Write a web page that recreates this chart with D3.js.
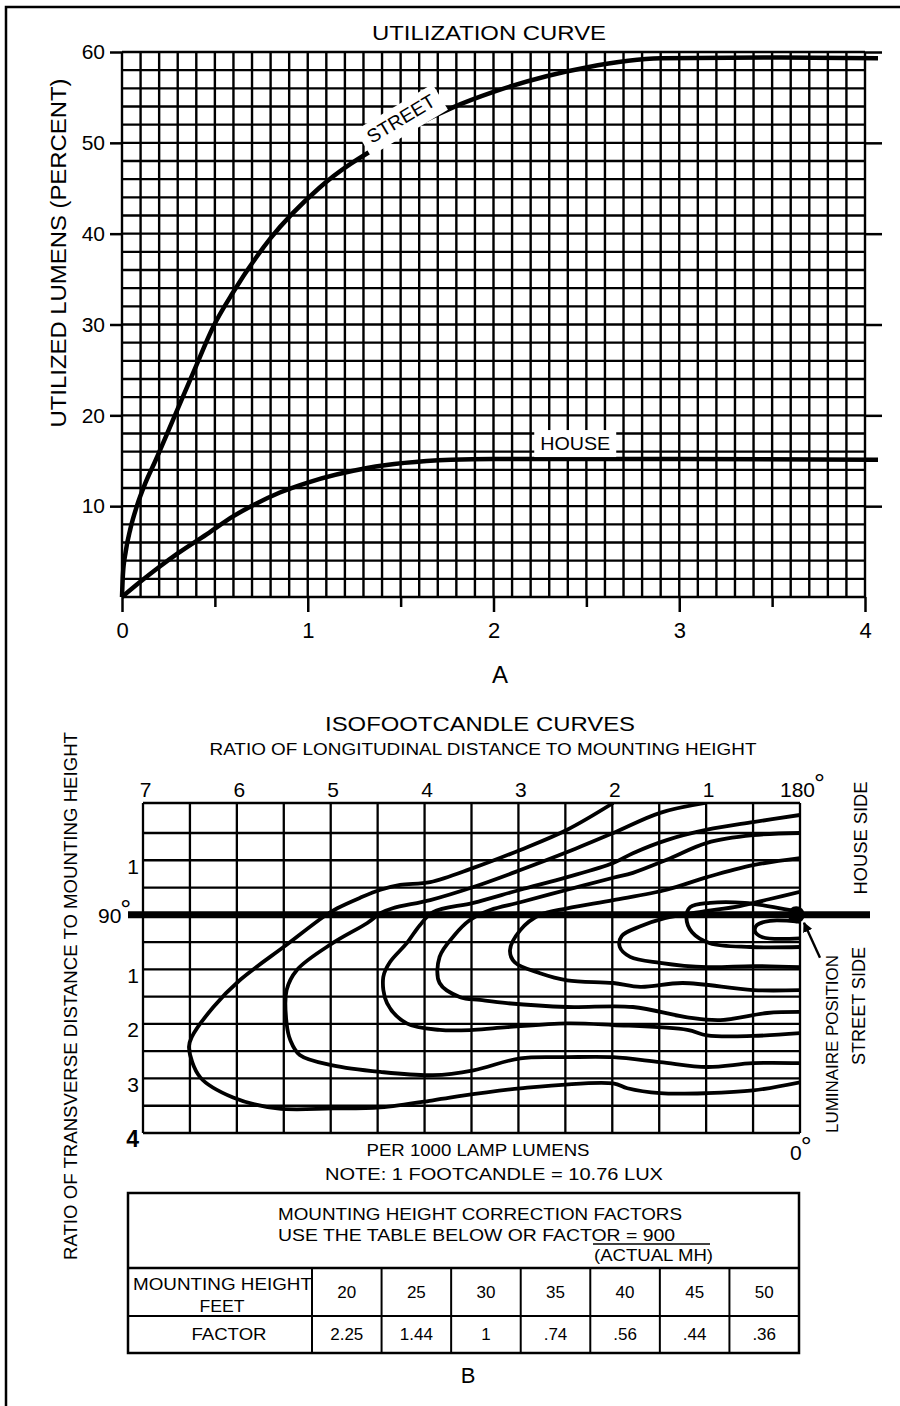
<!DOCTYPE html>
<html><head><meta charset="utf-8">
<script src="https://cdn.jsdelivr.net/npm/d3@7"></script>
<style>
body{margin:0;background:#fff;}
svg{display:block;font-family:"Liberation Sans",Arial,Helvetica,sans-serif;}
text{fill:#000;}
</style></head><body>
<svg id="c" width="900" height="1406"></svg>
<script>
// ---------- Chart A : utilization curve ----------
const utilXTicks = [0, 1, 2, 3, 4];
const utilXMinor = [0.5, 1.5, 2.5, 3.5];
const utilYTicks = [10, 20, 30, 40, 50, 60];
const streetX = [0, 0.005, 0.02, 0.045, 0.08, 0.125, 0.18, 0.285, 0.39, 0.49, 0.6, 0.8, 1.06, 1.43, 1.77, 2.0, 2.5, 2.9, 3.5, 4.07];
const streetY = [0, 2.5, 5, 7.5, 10, 12.5, 15, 20, 25, 29.7, 33.6, 39.5, 45, 50.2, 53.8, 55.6, 58.3, 59.3, 59.4, 59.3];
const houseX = [0, 0.1, 0.2, 0.3, 0.47, 0.6, 0.705, 0.85, 1.0, 1.32, 1.77, 2.0, 3.0, 4.07];
const houseY = [0, 1.7, 3.3, 4.8, 7.1, 8.9, 10.1, 11.5, 12.6, 14.2, 15.1, 15.2, 15.2, 15.1];

// ---------- Chart B : isofootcandle curves ----------
const longTicks = [7, 6, 5, 4, 3, 2, 1];
const transTicks = [-1, 1, 2, 3, 4];   // negative = house side
const iso1 = [[1.99,-2.05],[2.48,-1.56],[2.98,-1.19],[3.48,-0.86],[3.94,-0.60],[4.26,-0.55],[4.47,-0.46],[4.69,-0.31],[4.93,-0.12],[5.08,0.04],[5.47,0.55],[5.97,1.20],[6.25,1.69],[6.48,2.24],[6.51,2.43],[6.39,2.98],[6.04,3.35],[5.57,3.55],[4.98,3.55],[4.47,3.53],[3.91,3.40],[3.73,3.35],[2.98,3.18],[1.99,3.09],[1.84,3.18],[1.49,3.27],[0.99,3.27],[0.50,3.22],[0,3.07]];
const iso2 = [[1.01,-2.05],[1.49,-1.87],[1.99,-1.50],[2.48,-1.15],[2.98,-0.82],[3.48,-0.51],[3.94,-0.27],[4.34,-0.12],[4.47,-0.03],[4.61,0.15],[4.98,0.52],[5.36,1.01],[5.47,1.38],[5.47,1.99],[5.43,2.30],[5.33,2.57],[4.98,2.76],[4.47,2.88],[3.91,2.94],[3.48,2.85],[2.98,2.63],[2.48,2.61],[1.99,2.61],[1.49,2.70],[0.99,2.79],[0.50,2.72],[0,2.72]];
const iso3 = [[0,-1.83],[0.50,-1.70],[0.99,-1.56],[1.42,-1.37],[1.78,-1.13],[1.99,-0.95],[2.48,-0.69],[2.98,-0.46],[3.48,-0.22],[3.91,-0.05],[4.05,0.19],[4.19,0.52],[4.37,0.87],[4.44,1.14],[4.40,1.62],[4.19,1.99],[3.84,2.11],[3.48,2.11],[3.12,2.06],[2.48,1.99],[1.99,2.02],[1.20,2.11],[0.99,2.21],[0.50,2.22],[0,2.17]];
const iso4 = [[0,-1.50],[0.50,-1.46],[0.99,-1.32],[1.42,-1.01],[1.78,-0.77],[1.99,-0.68],[2.48,-0.46],[2.98,-0.23],[3.30,-0.09],[3.52,0.10],[3.68,0.37],[3.84,0.77],[3.84,1.25],[3.62,1.51],[3.41,1.56],[3.12,1.62],[2.48,1.69],[1.78,1.69],[1.20,1.88],[0.85,1.93],[0.35,1.80],[0,1.78]];
const iso5 = [[0,-1.04],[0.50,-0.91],[0.99,-0.69],[1.42,-0.46],[1.99,-0.27],[2.48,-0.12],[2.77,0.00],[2.98,0.28],[3.09,0.65],[3.04,0.87],[2.77,1.07],[2.48,1.20],[1.99,1.25],[1.70,1.32],[1.25,1.25],[0.50,1.38],[0,1.38]];
const iso6 = [[0,-0.42],[0.32,-0.29],[0.64,-0.16],[1.07,-0.05],[1.44,0.06],[1.70,0.21],[1.90,0.39],[1.92,0.59],[1.81,0.77],[1.49,0.88],[0.99,0.96],[0.50,0.94],[0,0.96]];
const iso7 = [[0,-0.05],[0.21,-0.12],[0.59,-0.22],[0.96,-0.22],[1.17,-0.14],[1.21,0.06],[1.15,0.32],[0.96,0.52],[0.53,0.59],[0,0.59]];
const iso8 = [[0,0.13],[0.32,0.11],[0.46,0.19],[0.48,0.30],[0.40,0.41],[0,0.43]];
const isoCurves = [iso1, iso2, iso3, iso4, iso5, iso6, iso7, iso8];

// ---------- Table ----------
const mountingHeights = [20, 25, 30, 35, 40, 45, 50];
const factors = ["2.25", "1.44", "1", ".74", ".56", ".44", ".36"];

const svg = d3.select("#c");
svg.append("rect").attr("width", 900).attr("height", 1406).attr("fill", "#fff");
svg.append("path").attr("d", "M6,1406 V7 H900").attr("fill", "none").attr("stroke", "#000").attr("stroke-width", 2.5);

function T(parent, x, y, str, size, o = {}) {
  const t = parent.append("text").attr("x", x).attr("y", y).attr("font-size", size)
    .attr("text-anchor", o.anchor || "middle").text(str);
  if (o.width) t.attr("textLength", o.width).attr("lengthAdjust", "spacingAndGlyphs");
  if (o.weight) t.attr("font-weight", o.weight);
  if (o.rotate) t.attr("transform", `rotate(${o.rotate},${x},${y})`);
  return t;
}
function deg(parent, x, y, num, size, anchor) {
  const t = parent.append("text").attr("x", x).attr("y", y).attr("font-size", size)
    .attr("text-anchor", anchor).text(num);
  t.append("tspan").attr("font-size", size * 1.3).attr("dy", -4).attr("dx", -1).text("°");
  return t;
}
function styleAxis(g, fs) {
  g.attr("font-family", null).attr("font-size", fs);
  g.select(".domain").remove();
  g.selectAll(".tick line").attr("stroke", "#000").attr("stroke-width", 2.5);
  g.selectAll(".tick text").attr("fill", "#000");
}

// ================= Chart A =================
const gA = svg.append("g");
const xA = d3.scaleLinear().domain([0, 4]).range([122, 865]);
const yA = d3.scaleLinear().domain([0, 60]).range([597, 52]);

gA.selectAll(".vg").data(d3.range(0, 41)).join("line").attr("class", "vg")
  .attr("x1", d => xA(d / 10)).attr("x2", d => xA(d / 10))
  .attr("y1", yA(0)).attr("y2", yA(60)).attr("stroke", "#000").attr("stroke-width", 2.4);
gA.selectAll(".hg").data(d3.range(0, 31)).join("line").attr("class", "hg")
  .attr("x1", xA(0)).attr("x2", xA(4))
  .attr("y1", d => yA(d * 2)).attr("y2", d => yA(d * 2)).attr("stroke", "#000").attr("stroke-width", 2.4);

gA.append("g").attr("transform", `translate(${xA(0)},0)`)
  .call(d3.axisLeft(yA).tickValues(utilYTicks).tickSize(12).tickPadding(5))
  .call(g => styleAxis(g, 21));
gA.append("g").attr("transform", `translate(${xA(4)},0)`)
  .call(d3.axisRight(yA).tickValues(utilYTicks).tickSize(17).tickFormat(""))
  .call(g => styleAxis(g, 21));
gA.append("g").attr("transform", `translate(0,${yA(0)})`)
  .call(d3.axisBottom(xA).tickValues(utilXTicks).tickSize(15).tickPadding(10).tickFormat(d3.format("d")))
  .call(g => styleAxis(g, 22));
gA.append("g").attr("transform", `translate(0,${yA(0)})`)
  .call(d3.axisBottom(xA).tickValues(utilXMinor).tickSize(10).tickFormat(""))
  .call(g => styleAxis(g, 22));

const lineA = d3.line().x(d => xA(d[0])).y(d => yA(d[1])).curve(d3.curveMonotoneX);
gA.append("path").datum(d3.zip(streetX, streetY)).attr("d", lineA)
  .attr("fill", "none").attr("stroke", "#000").attr("stroke-width", 4.5);
gA.append("path").datum(d3.zip(houseX, houseY)).attr("d", lineA)
  .attr("fill", "none").attr("stroke", "#000").attr("stroke-width", 4.5);

// labels
const hx = xA(2.44), hy = yA(16.95);
gA.append("rect").attr("x", hx - 41).attr("y", hy - 13).attr("width", 82).attr("height", 27).attr("fill", "#fff");
T(gA, hx, hy + 7, "HOUSE", 19, { width: 70 });
const sx = xA(1.5), sy = yA(52.7);
const sg = gA.append("g").attr("transform", `translate(${sx},${sy}) rotate(-31)`);
sg.append("rect").attr("x", -45).attr("y", -13).attr("width", 90).attr("height", 30).attr("fill", "#fff");
T(sg, 0, 7, "STREET", 19, { width: 76 });

T(svg, 489, 40, "UTILIZATION CURVE", 21, { width: 234 });
T(svg, 66, 253, "UTILIZED LUMENS (PERCENT)", 22, { width: 349, rotate: -90 });
T(svg, 500, 683, "A", 24);

// ================= Chart B =================
const gB = svg.append("g");
const xB = d3.scaleLinear().domain([7, 0]).range([143, 800]);
const yB = d3.scaleLinear().domain([-2.05, 4]).range([803, 1133]);

gB.selectAll(".vb").data(d3.range(0, 7.01, 0.5)).join("line").attr("class", "vb")
  .attr("x1", d => xB(d)).attr("x2", d => xB(d))
  .attr("y1", yB(-2.05)).attr("y2", yB(4)).attr("stroke", "#000").attr("stroke-width", 2.3);
gB.selectAll(".hb").data([-2.05, -1.5, -1, -0.5, 0.5, 1, 1.5, 2, 2.5, 3, 3.5, 4]).join("line").attr("class", "hb")
  .attr("x1", xB(7)).attr("x2", xB(0))
  .attr("y1", d => yB(d)).attr("y2", d => yB(d)).attr("stroke", "#000").attr("stroke-width", 2.3);

svg.append("clipPath").attr("id", "clipB").append("rect")
  .attr("x", xB(7)).attr("y", yB(-2.05)).attr("width", xB(0) - xB(7)).attr("height", yB(4) - yB(-2.05));
const lineB = d3.line().x(d => xB(d[0])).y(d => yB(d[1])).curve(d3.curveCatmullRom.alpha(0.5));
gB.append("g").attr("clip-path", "url(#clipB)")
  .selectAll("path").data(isoCurves).join("path").attr("d", lineB)
  .attr("fill", "none").attr("stroke", "#000").attr("stroke-width", 3.8).attr("stroke-linejoin", "round");

// 90 degree line and luminaire
gB.append("line").attr("x1", 128).attr("x2", 870).attr("y1", yB(0)).attr("y2", yB(0))
  .attr("stroke", "#000").attr("stroke-width", 7);
gB.append("circle").attr("cx", xB(0.04)).attr("cy", yB(0)).attr("r", 8.5).attr("fill", "#000");
svg.append("defs").append("marker").attr("id", "arr").attr("viewBox", "0 0 10 10")
  .attr("refX", 9).attr("refY", 5).attr("markerWidth", 10).attr("markerHeight", 10)
  .attr("orient", "auto").attr("markerUnits", "userSpaceOnUse")
  .append("path").attr("d", "M0,0 L10,5 L0,10 z").attr("fill", "#000");
gB.append("line").attr("x1", xB(0) + 20).attr("y1", yB(0) + 43).attr("x2", xB(0) + 4).attr("y2", yB(0) + 8)
  .attr("stroke", "#000").attr("stroke-width", 2.4).attr("marker-end", "url(#arr)");

// axes B
gB.append("g").attr("transform", `translate(2,${yB(-2.05)})`)
  .call(d3.axisTop(xB).tickValues(longTicks).tickSize(0).tickPadding(6).tickFormat(d3.format("d")))
  .call(g => styleAxis(g, 21));
const la = gB.append("g").attr("transform", `translate(${xB(7) - 4},0)`)
  .call(d3.axisLeft(yB).tickValues(transTicks).tickSize(0).tickPadding(0).tickFormat(d => Math.abs(d)))
  .call(g => styleAxis(g, 21));
la.selectAll(".tick text").attr("y", 6);
la.selectAll(".tick").filter(d => d === 4).select("text").attr("font-weight", "bold").attr("font-size", 23);

deg(gB, 98, yB(0) + 8, "90", 21, "start");
deg(gB, xB(0) - 20, 797, "180", 21, "start");
deg(gB, xB(0) - 10, 1160, "0", 21, "start");

T(svg, 480, 731, "ISOFOOTCANDLE CURVES", 20, { width: 310 });
T(svg, 483, 755, "RATIO OF LONGITUDINAL DISTANCE TO MOUNTING HEIGHT", 16, { width: 547 });
T(svg, 77, 996, "RATIO OF TRANSVERSE DISTANCE TO MOUNTING HEIGHT", 18, { width: 528, rotate: -90 });
T(svg, 867, 838, "HOUSE SIDE", 18, { width: 113, rotate: -90 });
T(svg, 865, 1006, "STREET SIDE", 18, { width: 118, rotate: -90 });
T(svg, 838, 1044, "LUMINAIRE POSITION", 17, { width: 178, rotate: -90 });
T(svg, 478, 1156, "PER 1000 LAMP LUMENS", 16.5, { width: 223 });
T(svg, 494, 1180, "NOTE:  1 FOOTCANDLE  =  10.76 LUX", 16.5, { width: 338 });

// ================= Table =================
const gT = svg.append("g");
const tL = 128, tR = 799, tTop = 1193, tH = 1268, tM = 1316, tB = 1353, c0 = 312;
const xT = d3.scaleBand().domain(mountingHeights).range([c0, tR]);
gT.append("rect").attr("x", tL).attr("y", tTop).attr("width", tR - tL).attr("height", tB - tTop)
  .attr("fill", "none").attr("stroke", "#000").attr("stroke-width", 2.5);
gT.append("line").attr("x1", tL).attr("x2", tR).attr("y1", tH).attr("y2", tH).attr("stroke", "#000").attr("stroke-width", 2.5);
gT.append("line").attr("x1", tL).attr("x2", tR).attr("y1", tM).attr("y2", tM).attr("stroke", "#000").attr("stroke-width", 2);
gT.selectAll(".cd").data(mountingHeights).join("line").attr("class", "cd")
  .attr("x1", d => xT(d)).attr("x2", d => xT(d)).attr("y1", tH).attr("y2", tB)
  .attr("stroke", "#000").attr("stroke-width", 2);
gT.selectAll(".mh").data(mountingHeights).join("text").attr("class", "mh")
  .attr("x", d => xT(d) + xT.bandwidth() / 2).attr("y", 1298).attr("text-anchor", "middle")
  .attr("font-size", 17).text(d => d);
gT.selectAll(".fa").data(mountingHeights).join("text").attr("class", "fa")
  .attr("x", d => xT(d) + xT.bandwidth() / 2).attr("y", 1340).attr("text-anchor", "middle")
  .attr("font-size", 17).text((d, i) => factors[i]);
T(gT, 480, 1220, "MOUNTING HEIGHT CORRECTION FACTORS", 17, { width: 404 });
T(gT, 278, 1241, "USE THE TABLE BELOW OR FACTOR  =  900", 17, { width: 397, anchor: "start" });
gT.append("line").attr("x1", 593).attr("x2", 710).attr("y1", 1244).attr("y2", 1244).attr("stroke", "#000").attr("stroke-width", 1.5);
T(gT, 594, 1261, "(ACTUAL MH)", 17, { width: 119, anchor: "start" });
T(gT, 133, 1290, "MOUNTING HEIGHT", 16.5, { width: 179, anchor: "start" });
T(gT, 222, 1312, "FEET", 16.5, { width: 45 });
T(gT, 229, 1340, "FACTOR", 16.5, { width: 75 });
T(svg, 468, 1383, "B", 22);
</script>
</body></html>
